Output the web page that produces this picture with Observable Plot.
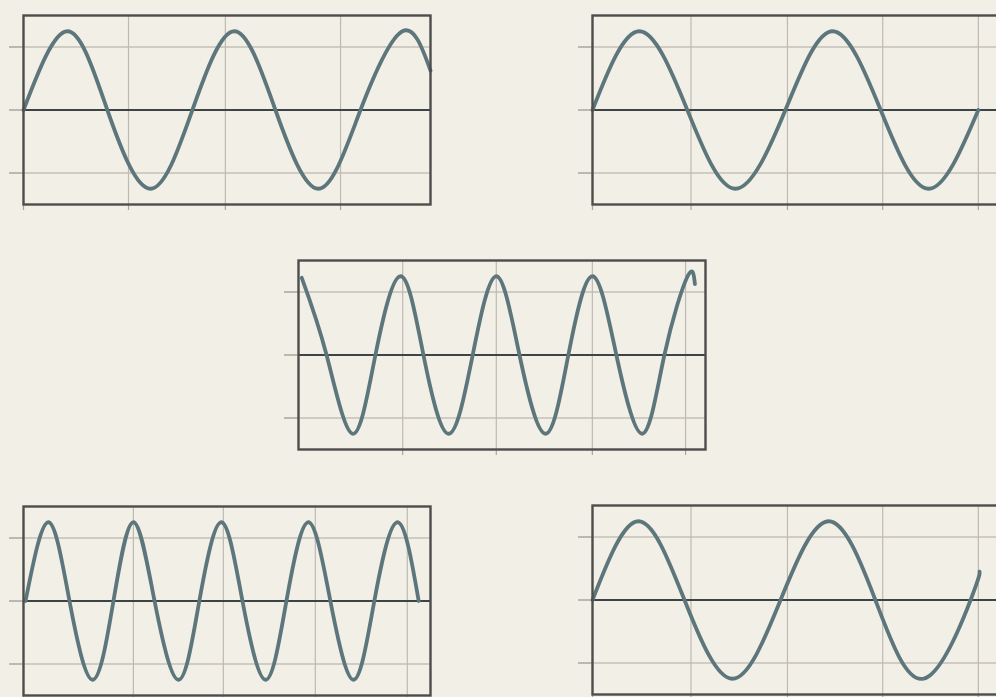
<!DOCTYPE html>
<html>
<head>
<meta charset="utf-8">
<script src="https://cdn.jsdelivr.net/npm/d3@7"></script>
<script src="https://cdn.jsdelivr.net/npm/@observablehq/plot@0.6"></script>
<style>
  html, body { margin: 0; padding: 0; }
  body { width: 996px; height: 697px; overflow: hidden; background: #f2efe6; position: relative; font-family: "DejaVu Sans", sans-serif; }
  .panel { position: absolute; }
  .panel svg { background: transparent; overflow: visible; max-width: none !important; }
</style>
</head>
<body>
<script>
// ---- data (time axis 0..100 across each frame, amplitude ±1) ----
const yGrid = [-0.8, 0, 0.8];

// Panel A (top left)
const aT = [0, 10.8, 20.6, 31.2, 41.5, 51.8, 61.9, 72.5, 82.8, 93.1, 100];
const aY = [0, 1, 0, -1, 0, 1, 0, -1, 0, 1, 0.5];
const aGridX = [25.8, 49.6, 77.9];

// Panel B (top right)
const bT = [0, 11.5, 23.3, 35.1, 47.4, 59.0, 70.8, 82.6, 94.8];
const bY = [0, 1, 0, -1, 0, 1, 0, -1, 0];
const bGridX = [24.2, 47.9, 71.3, 94.8];

// Panel C (middle)
const cT = [0.8, 6.9, 13.3, 18.9, 25.1, 30.7, 36.9, 42.8, 48.6, 54.3, 60.7, 66.3, 72.2, 78.1, 84.5, 89.9, 95.6, 97.4];
const cY = [0.98, 0, -1, 0, 1, 0, -1, 0, 1, 0, -1, 0, 1, 0, -1, 0, 1, 0.9];
const cGridX = [25.6, 48.6, 72.2, 95.1];

// Panel D (bottom left)
const dT = [0.5, 6.1, 11.3, 17.0, 22.1, 27.0, 32.2, 38.1, 43.2, 48.6, 53.8, 59.5, 64.6, 70.0, 75.4, 81.1, 86.2, 91.9, 97.1];
const dY = [0, 1, 0, -1, 0, 1, 0, -1, 0, 1, 0, -1, 0, 1, 0, -1, 0, 1, 0];
const dGridX = [27.0, 49.1, 71.7, 94.3];

// Panel E (bottom right)
const eT = [0, 11.3, 22.6, 34.4, 46.2, 58.0, 69.5, 81.3, 92.9, 95.1];
const eY = [0, 1, 0, -1, 0, 1, 0, -1, 0, 0.36];
const eGridX = [24.2, 47.9, 71.3, 94.8];

// ---- layout ----
const panels = [
  {t: aT, y: aY, grid: aGridX, left: 23, top: 15, startTick: true},
  {t: bT, y: bY, grid: bGridX, left: 592, top: 15, startTick: true},
  {t: cT, y: cY, grid: cGridX, left: 298, top: 260, startTick: false},
  {t: dT, y: dY, grid: dGridX, left: 23, top: 506, startTick: true},
  {t: eT, y: eY, grid: eGridX, left: 592, top: 505, startTick: true}
];

const mL = 16, mT = 3, mR = 3, mB = 9;
const frameW = 407, frameH = 189;

for (const p of panels) {
  const rows = p.t.map((t, i) => ({t, v: p.y[i]}));
  const xTicks = p.startTick ? [0, ...p.grid] : p.grid;
  const W = mL + frameW + mR, H = mT + frameH + mB;
  const chart = Plot.plot({
    width: W,
    height: H,
    marginLeft: mL, marginTop: mT, marginRight: mR, marginBottom: mB,
    style: {background: "transparent", maxWidth: "none"},
    x: {domain: [0, 100]},
    y: {domain: [-1.2, 1.2]},
    marks: [
      Plot.gridY([-0.8, 0.8], {stroke: "#c4c1b8", strokeOpacity: 1, strokeWidth: 1.5}),
      Plot.gridX(p.grid, {stroke: "#bdbab2", strokeOpacity: 1, strokeWidth: 1.2}),
      Plot.axisY(yGrid, {anchor: "left", tickSize: 14, fill: "none", stroke: "#a9a69f", strokeWidth: 1.5, label: null}),
      Plot.axisX(xTicks, {anchor: "bottom", tickSize: 6, fill: "none", stroke: "#a9a69f", strokeWidth: 1.2, label: null}),
      Plot.ruleY([0], {stroke: "#3e4345", strokeWidth: 2}),
      Plot.line(rows, {x: "t", y: "v", curve: "natural", stroke: "#5d767b", strokeWidth: 3.8, strokeLinecap: "round"}),
      Plot.frame({stroke: "#4d4d4b", strokeWidth: 2.4})
    ]
  });
  const div = document.createElement("div");
  div.className = "panel";
  div.style.left = (p.left - mL) + "px";
  div.style.top = (p.top - mT) + "px";
  div.style.width = W + "px";
  div.style.height = H + "px";
  div.appendChild(chart);
  document.body.appendChild(div);
}
</script>
</body>
</html>
